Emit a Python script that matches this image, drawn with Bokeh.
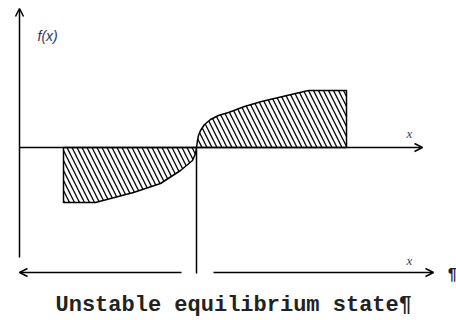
from bokeh.plotting import figure
from bokeh.models import Range1d, Arrow, OpenHead
from bokeh.core.properties import value
from bokeh.embed import file_html
from bokeh.resources import INLINE

# --- data (diagram units, origin = equilibrium point) ---
right_x = [0, 1, 2, 4, 8, 14, 22, 32, 48, 65, 82, 99, 112, 150]
right_f = [0, 7, 12, 17, 23, 28, 32, 35, 41, 46, 50, 54, 57, 57]
left_x = [-133, -101, -63, -36, -16, -4, -1, 0]
left_f = [-55, -55, -45, -36, -23, -13, -6, 0]

axis_left = -177
axis_bottom = -110
axis_top = 139
axis_right = 226
base_y = -125
base_gap_l = -15
base_gap_r = 17
base_left = -177
base_right = 237
title = "Unstable equilibrium state\u00b6"

p = figure(width=456, height=320, output_backend="svg", toolbar_location=None,
           x_range=Range1d(-196, 260), y_range=Range1d(-173, 147),
           min_border=0)
p.axis.visible = False
p.grid.visible = False
p.outline_line_color = None
p.background_fill_color = "white"

# hatched areas
rx = right_x + [right_x[-1]]
ry = right_f + [0]
p.patch(rx, ry, fill_color=None, hatch_pattern="\\", hatch_color="black",
        hatch_scale=10, hatch_weight=1.3, line_color="black", line_width=1.5)
lx = [left_x[0]] + left_x
ly = [0] + left_f
p.patch(lx, ly, fill_color=None, hatch_pattern="\\", hatch_color="black",
        hatch_scale=10, hatch_weight=1.3, line_color="black", line_width=1.5)

# axes
p.add_layout(Arrow(end=OpenHead(size=8, line_width=1.5), x_start=axis_left, y_start=axis_bottom,
                   x_end=axis_left, y_end=axis_top, line_width=1.5))
p.add_layout(Arrow(end=OpenHead(size=8, line_width=1.5), x_start=axis_left, y_start=0,
                   x_end=axis_right, y_end=0, line_width=1.5))
# equilibrium vertical line
p.line([0, 0], [0, base_y - 1], line_color="black", line_width=1.5)
# bottom arrows
p.add_layout(Arrow(end=OpenHead(size=8, line_width=1.5), x_start=base_gap_l, y_start=base_y,
                   x_end=base_left, y_end=base_y, line_width=1.5))
p.add_layout(Arrow(end=OpenHead(size=8, line_width=1.5), x_start=base_gap_r, y_start=base_y,
                   x_end=base_right, y_end=base_y, line_width=1.5))

# labels
p.text(x=[-159], y=[112], text=["f(x)"], text_font=value("Liberation Sans"),
       text_font_style="italic", text_font_size="14px", text_color="#2b3560",
       text_baseline="middle", text_align="left")
p.text(x=[213, 213], y=[14, -113], text=["x", "x"], text_font=value("Liberation Serif"),
       text_font_style="italic", text_font_size="13px", text_color="#3b3b66",
       text_baseline="middle", text_align="center")
p.text(x=[-141], y=[-158], text=[title], text_font=value("Liberation Mono"),
       text_font_style="bold", text_font_size="22px", text_color="#222222",
       text_baseline="middle", text_align="left")
p.text(x=[251], y=[base_y - 2], text=["\u00b6"], text_font=value("Liberation Mono"),
       text_font_style="bold", text_font_size="16px", text_color="#222222",
       text_baseline="middle", text_align="left")

open("out.html", "w").write(file_html(p, INLINE))
